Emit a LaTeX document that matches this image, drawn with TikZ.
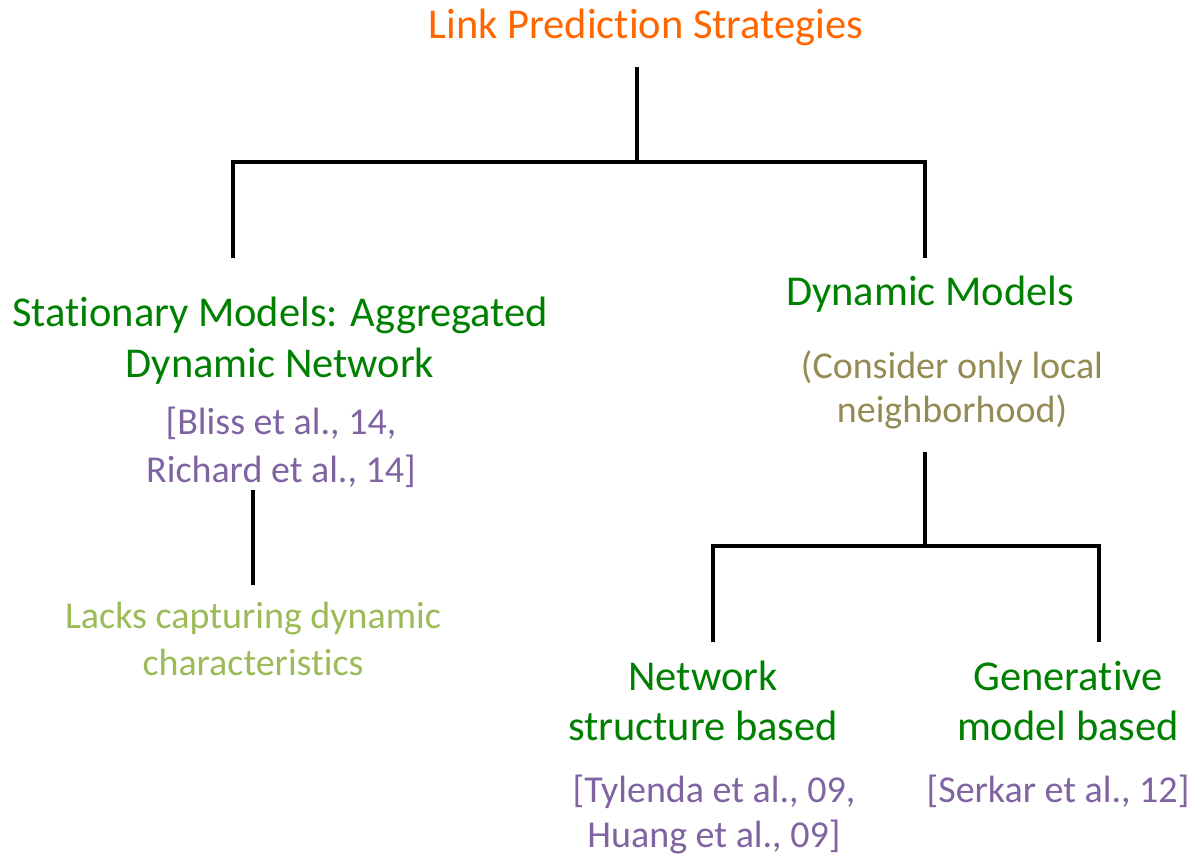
\documentclass[tikz,border=0pt]{standalone}
\usepackage{fontspec}
\setmainfont{Carlito}[Ligatures=NoCommon]
\usepackage{xcolor}
\usepackage{tikz}
\usetikzlibrary{positioning}
\definecolor{rootorange}{HTML}{FF6600}
\definecolor{modelgreen}{HTML}{008000}
\definecolor{citepurple}{HTML}{8064A2}
\definecolor{lackgreen}{HTML}{9BBB59}
\definecolor{scopeolive}{HTML}{948A54}
\tikzstyle{heading} = [align=center, inner sep=0pt, anchor=base, text=modelgreen, font=\fontsize{42.5}{51}\selectfont]
\tikzstyle{citation} = [align=center, inner sep=0pt, anchor=base, text=citepurple, font=\fontsize{38}{48}\selectfont]
\tikzstyle{remark} = [align=center, inner sep=0pt, anchor=base, font=\fontsize{38}{45}\selectfont]
\tikzstyle{branch} = [line width=4.5pt, black]

\begin{document}
\begin{tikzpicture}[x=1pt, y=-1pt]
    \useasboundingbox (0,0) rectangle (1201,855);

    % Nodes (placed at the baseline of their last line)
    \node (root) [heading, text=rootorange] at (646,38) {Link Prediction Strategies};
    \node (static) [heading] at (280,377) {Stationary Models: Aggregated\\Dynamic Network};
    \node (staticcite) [citation] at (281,482) {[Bliss et al., 14,\\Richard et al., 14]};
    \node (lacks) [remark, text=lackgreen, font=\fontsize{38}{47}\selectfont] at (253,675) {Lacks capturing dynamic\\characteristics};
    \node (dynamic) [heading] at (930,305) {Dynamic Models};
    \node (local) [remark, text=scopeolive, font=\fontsize{38}{44}\selectfont] at (952,422) {(Consider only local\\neighborhood)};
    \node (netstruct) [heading, font=\fontsize{42.5}{50}\selectfont] at (703,740) {Network\\structure based};
    \node (netcite) [citation, font=\fontsize{38}{45}\selectfont] at (714,847) {[Tylenda et al., 09,\\Huang et al., 09]};
    \node (genmodel) [heading, font=\fontsize{42.5}{50}\selectfont] at (1068,740) {Generative\\model based};
    \node (gencite) [citation] at (1058,802) {[Serkar et al., 12]};

    % Tree joints
    \coordinate (rootstem) at (637,67);
    \coordinate (rootfork) at (637,162);
    \coordinate (statictip) at (233,258);
    \coordinate (dynamictip) at (925,258);
    \coordinate (staticstem) at (253,490);
    \coordinate (lackstip) at (253,585);
    \coordinate (dynamicstem) at (925,452);
    \coordinate (dynamicfork) at (925,546);
    \coordinate (nettip) at (713,642);
    \coordinate (gentip) at (1099,642);

    % Branches
    \draw [branch] (rootstem) -- (rootfork);
    \draw [branch] (statictip) |- (rootfork) -| (dynamictip);
    \draw [branch] (staticstem) -- (lackstip);
    \draw [branch] (dynamicstem) -- (dynamicfork);
    \draw [branch] (nettip) |- (dynamicfork) -| (gentip);

\end{tikzpicture}
\end{document}
